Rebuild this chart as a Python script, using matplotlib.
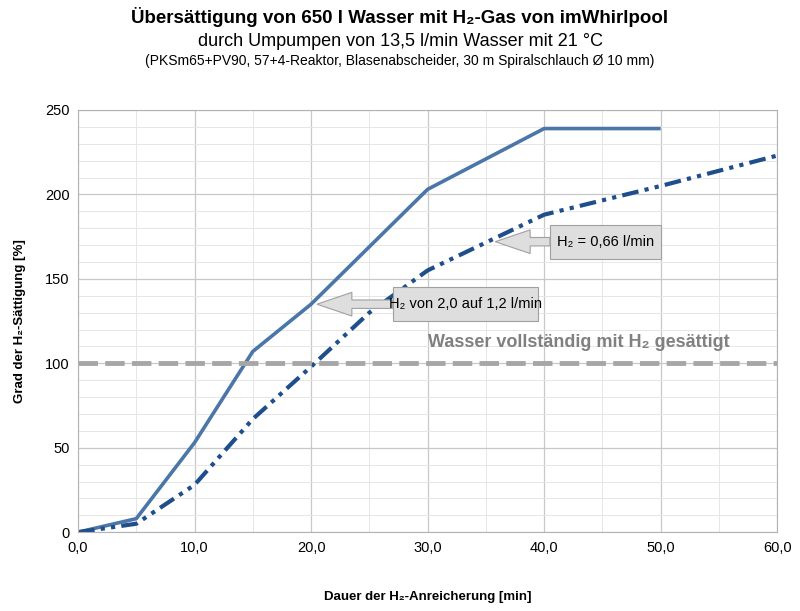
import matplotlib.pyplot as plt
from matplotlib.ticker import MultipleLocator, FuncFormatter
from matplotlib.patches import FancyArrow

plt.rcParams['font.family'] = ['Liberation Sans', 'DejaVu Sans']

# data
t_fast = [0, 5, 10, 15, 20, 30, 40, 50]
sat_fast = [0, 8, 53, 107, 135, 203, 239, 239]
t_slow = [0, 5, 10, 15, 20, 25, 30, 40, 50, 60]
sat_slow = [0, 5, 28, 67, 98, 130, 155, 188, 205, 223]
full_sat = 100

fig = plt.figure(figsize=(8, 6.11), dpi=100)
ax = fig.add_axes([0.0975, 0.129, 0.874, 0.691])

ax.plot(t_fast, sat_fast, color='#4a76a8', lw=2.6, solid_capstyle='butt')
ax.plot(t_slow, sat_slow, color='#1f4e8c', lw=3, dashes=(4, 1.5, 1, 1.5, 1, 1.5))
ax.axhline(full_sat, color='#a6a6a6', lw=3.5, dashes=(4, 1.5))
ax.text(30, 107, 'Wasser vollständig mit H₂ gesättigt', color='#808080',
        fontsize=13, fontweight='bold', va='bottom')

ax.set_xlim(0, 60)
ax.set_ylim(0, 250)
ax.xaxis.set_major_locator(MultipleLocator(10))
ax.xaxis.set_minor_locator(MultipleLocator(5))
ax.yaxis.set_major_locator(MultipleLocator(50))
ax.yaxis.set_minor_locator(MultipleLocator(10))
ax.xaxis.set_major_formatter(FuncFormatter(lambda v, p: f'{v:.1f}'.replace('.', ',')))
ax.grid(which='major', color='#c8c8c8', lw=0.9)
ax.grid(which='minor', color='#e6e6e6', lw=0.7)
ax.set_axisbelow(True)
for s in ax.spines.values():
    s.set_color('#b3b3b3')
ax.tick_params(which='both', length=0, labelsize=10.5, pad=6)

ax.set_xlabel('Dauer der H₂-Anreicherung [min]', fontsize=9.5, fontweight='bold', labelpad=26)
ax.set_ylabel('Grad der H₂-Sättigung [%]', fontsize=9.5, fontweight='bold', labelpad=14)


def callout(tip, box_left, y, text, w, h):
    ax.add_patch(FancyArrow(box_left, y, tip - box_left, 0, width=h * 0.25,
                            head_width=h * 0.7, head_length=3, length_includes_head=True,
                            fc='#dedede', ec='#a0a0a0', lw=0.8, zorder=4))
    ax.add_patch(plt.Rectangle((box_left, y - h / 2), w, h, fc='#dedede',
                               ec='#a0a0a0', lw=0.8, zorder=5))
    ax.text(box_left + w / 2, y, text, ha='center', va='center', fontsize=10.5,
            zorder=6, fontstretch='condensed')


callout(35.8, 40.5, 172, 'H₂ = 0,66 l/min', 9.5, 20)
callout(20.5, 27.0, 135, 'H₂ von 2,0 auf 1,2 l/min', 12.5, 20)

fig.text(0.5, 0.962, 'Übersättigung von 650 l Wasser mit H₂-Gas von imWhirlpool',
         ha='center', fontsize=13.5, fontweight='bold')
fig.text(0.5, 0.925, 'durch Umpumpen von 13,5 l/min Wasser mit 21 °C', ha='center', fontsize=13)
fig.text(0.5, 0.893, '(PKSm65+PV90, 57+4-Reaktor, Blasenabscheider, 30 m Spiralschlauch Ø 10 mm)',
         ha='center', fontsize=10)

fig.savefig('out.png', dpi=100)
